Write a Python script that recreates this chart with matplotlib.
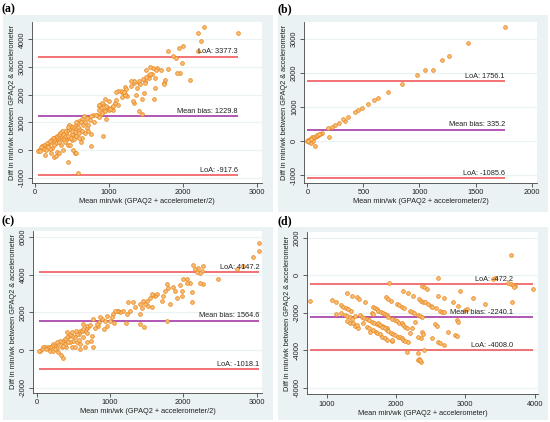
import matplotlib
matplotlib.use("Agg")
import matplotlib.pyplot as plt
from matplotlib.patches import Rectangle

plt.rcParams['font.family'] = ['Liberation Sans', 'DejaVu Sans']

# ---------------- data ----------------
a_x = [2740, 2280, 2200, 2250, 2200, 2000, 1940, 1980, 1800, 1870, 1900, 2100, 1960, 1920, 1800, 1650,
       1600, 1560, 1500, 1580, 1620, 1700, 1760, 1740, 1740, 1620, 1610, 1540, 1540, 1560, 1480, 1480,
       1460, 1470, 1450, 1440, 1400, 1400, 1400, 1380, 1340, 1340, 1300, 1340, 1330, 1360, 1220, 1230,
       1220, 1240, 1220, 1180, 1160, 1120, 1100, 1120, 1080, 1060, 1040, 980, 1000, 960, 950, 920, 900,
       880, 870, 860, 890, 860, 880, 930, 960, 920, 840, 800, 780, 760, 740, 700, 720, 760, 760, 660,
       640, 600, 580, 560, 540, 560, 640, 620, 600, 600, 580, 540, 520, 520, 500, 500, 480, 460, 460,
       440, 430, 420, 400, 400, 380, 360, 340, 360, 340, 320, 310, 300, 280, 280, 260, 250, 240, 220,
       220, 200, 180, 160, 160, 140, 120, 100, 100, 80, 60, 40, 70, 120, 140, 220, 260, 280, 300, 320,
       380, 440, 470, 520, 540, 560, 440, 580, 500, 460, 420, 300, 280, 250, 230, 200, 180, 150, 350,
       330, 390, 410, 450, 480, 530, 560, 600, 640, 680, 700, 720, 680, 620, 650, 820, 860, 900, 940,
       1000, 1020, 1050, 1100, 1180, 1200, 1300, 1420, 1500, 1640]
a_y = [4230, 4450, 4230, 3960, 3580, 3760, 3680, 3160, 3580, 3410, 3330, 2530, 2790, 2770, 2930, 2980,
       2980, 3000, 2880, 2760, 2600, 2900, 2550, 2440, 2400, 2240, 1840, 2600, 2730, 2740, 2500, 2430,
       2560, 2060, 1830, 1290, 1420, 2440, 2500, 2230, 2420, 2500, 2480, 1700, 1780, 2000, 2270, 2200,
       2040, 1950, 2000, 2100, 2150, 2130, 2110, 1640, 1700, 1430, 1540, 1520, 1780, 1580, 1830, 1650,
       1700, 1640, 1580, 1620, 1530, 1450, 1280, 1440, 1110, 500, 1260, 1000, 1260, 1230, 1100, 1150,
       900, 580, 140, 1220, 1140, 1060, 990, 1000, 880, 750, 420, 280, 760, 620, 820, 650, 540, 830,
       580, 700, 880, 760, 900, 820, 700, 610, 700, 500, 570, 700, 620, 410, 470, 540, 430, 500, 460,
       380, 420, 350, 440, 380, 300, 320, 200, 240, 150, 100, 180, 150, 80, 120, 20, -30, -20, 40,
       -170, -120, -250, -200, -80, -100, 0, 180, 180, 0, -100, -100, -420, -840, 350, 420, 350, 300,
       250, 200, 80, 50, 120, 0, 200, 300, 380, 280, 500, 450, 400, 520, 430, 700, 600, 780, 680,
       1000, 1000, 900, 1250, 1200, 1350, 1400, 1450, 1500, 1600, 1800, 1900, 2100, 2300, 2400, 2650,
       2900]

b_x = [1762, 1435, 1263, 1198, 1123, 1049, 975, 841, 722, 633, 597, 544, 484, 455, 425, 366, 336,
       321, 282, 247, 217, 187, 193, 128, 113, 98, 83, 68, 53, 39, 24, 9, 0, 15, 33, 68, 53, 45, 60,
       75, 90, 105, 20, 30, 5]
b_y = [3343, 2873, 2500, 2382, 2088, 2088, 1941, 1667, 1431, 1255, 1206, 1078, 961, 912, 843, 716,
       588, 637, 520, 471, 422, 373, 108, 245, 206, 176, 147, 127, 98, 69, 49, 29, 0, -20, -69, -137,
       10, 127, 110, 150, 180, 200, 30, 60, -10]

c_x = [3036, 3036, 2955, 2727, 2809, 2477, 2273, 2273, 2250, 2227, 2205, 2182, 2159, 2136, 2091, 2045,
       2000, 2045, 1955, 1977, 1977, 2114, 2114, 2227, 1909, 1886, 1864, 1795, 1750, 1727, 1705, 1818,
       1773, 1636, 1614, 1591, 1568, 1545, 1500, 1514, 1568, 1477, 1455, 1409, 1432, 1409, 1409, 1464,
       1341, 1318, 1250, 1273, 1227, 1182, 1218, 1136, 1114, 1091, 1068, 1045, 1023, 1000, 1055, 955,
       932, 964, 918, 886, 864, 855, 841, 818, 795, 773, 705, 691, 727, 673, 659, 636, 750, 736, 764,
       591, 614, 582, 545, 523, 500, 477, 455, 432, 409, 386, 364, 341, 318, 295, 273, 250, 227, 205,
       182, 159, 136, 114, 91, 68, 45, 36, 182, 227, 295, 327, 355, 400, 455, 477, 523, 591, 591, 659,
       682, 545, 386, 341, 273, 432, 409, 477, 536, 627, 691, 573, 636, 364, 250, 127, 1773]
c_y = [5681, 5274, 4956, 4300, 4460, 3770, 3500, 4478, 4212, 4071, 4354, 4124, 4300, 4531, 3540, 3540,
       3770, 3770, 3469, 3150, 2885, 3062, 2531, 3540, 2761, 3150, 3327, 3292, 3150, 2885, 2619, 2442,
       3504, 2973, 2885, 2938, 2973, 2761, 2619, 2354, 2265, 2442, 2584, 2442, 2230, 1912, 1380, 1239,
       2265, 2531, 2531, 2088, 1912, 2088, 1416, 2000, 2088, 2053, 2088, 1912, 1735, 1558, 1416, 1823,
       1558, 1292, 1115, 1646, 1735, 1469, 1292, 1380, 1168, 1646, 1204, 1292, 1345, 1115, 1027, 1380,
       761, 496, 142, 1027, 1027, 850, 850, 673, 496, 761, 814, 673, 708, 584, 496, 407, 460, 319, 407,
       230, 319, 230, 142, 177, 106, 142, 142, 53, -35, -70, -35, -35, -124, -248, -425, 142, 407, 142,
       142, 53, 319, 142, 407, 407, 319, 142, 106, 407, 938, 938, 1027, 1115, 885, 549, 708, 230, 53,
       71, 1558]

d_x = [761, 1081, 1135, 1207, 1240, 1275, 1312, 1347, 1298, 1370, 1434, 1471, 1553,
       1135, 1207, 1265, 1298, 1337, 1370, 1298, 1337, 1376, 1409, 1457, 1443,
       1409, 1481, 1506, 1543, 1578, 1611, 1650, 1683, 1722, 1755, 1794, 1827, 1866,
       1529, 1578, 1611, 1625, 1673, 1708, 1722, 1770, 1794, 1842, 1866, 1939, 1948,
       1673, 1698, 1722, 1745, 1784, 1817, 1842, 1866, 1890, 1650, 1673,
       1736, 1770, 1803, 1842, 1866, 1890, 1928, 1962, 1986, 2025, 2058, 2083, 2106, 2130, 2178,
       1856, 1890, 1928, 2010, 2044, 2083, 2116,
       1948, 1986, 2010, 2044, 2083, 2106, 2130, 2155,
       2106, 2178, 2250, 2203, 2236, 2265, 2236, 2203, 2275, 1900, 2155, 2323, 2323,
       2602, 2371, 2409, 2444, 2611, 2698, 2924, 3116, 3429,
       3621, 3660, 3693, 3718, 3708, 3670,
       2332, 2361, 2390, 2419, 2458, 2506, 2525, 2574, 2636, 2669, 2698,
       2828, 2891, 2996, 3021, 2314, 2347, 2380, 2563, 2588, 2877, 2891,
       2371, 2395, 2361, 2314, 2525, 2755, 2852, 2877, 2611, 2636, 2698, 2409,
       2332, 2361, 2347, 3659, 3976, 3284, 3404]
d_y = [-1369, -1316, -1438, -1582, -1673, -1759, -1812, -1887, -926, -1086, -1172, -1262, -1406,
       -2062, -2025, -2132, -2169, -2239, -2345, -2452, -2527, -2527, -2703, -2826, -2650,
       -2169, -2116, -2206, -2260, -2329, -2383, -2473, -2527, -2580, -2633, -2703, -2772, -2826,
       -2560, -2740, -2826, -3006, -2916, -3006, -3092, -3130, -3273, -3359, -3450, -3487, -3450,
       -1705, -1759, -1812, -1887, -1972, -2025, -2079, -2132, -2206, -2025, -2079,
       -2560, -2650, -2740, -2826, -2916, -2953, -3060, -3130, -3183, -3273, -3305, -3359, -3450, -3503, -3573,
       -1172, -1278, -1353, -1529, -1598, -1673, -1759,
       -2329, -2383, -2452, -2527, -2560, -2650, -2740, -2826,
       -835, -958, -1086, -1887, -1940, -1993, -2826, -3092, -2473, -425, -4074, -4159, -4517,
       -158, -552, -638, -729, -1086, -1193, -819, -1193, -158,
       -425, -478, -516, -569, -638, -1438,
       -1278, -1353, -1406, -1438, -1545, -1620, -1673, -1759, -1903, -1940, -1972,
       -1438, -1620, -1850, -1796, -2116, -2169, -2206, -2612, -2687, -2383, -2473,
       -3039, -3146, -3359, -3273, -3359, -3006, -3183, -3236, -3573, -3626, -3716, -3983,
       -4464, -4608, -4517, 1084, -747, -1547, -213]

panel_letters = ["(a)", "(b)", "(c)", "(d)"]
loa_upper = [3377.3, 1756.1, 4147.2, -472.2]
mean_bias = [1229.8, 335.2, 1564.6, -2240.1]
loa_lower = [-917.6, -1085.6, -1018.1, -4008.0]
xlabels = ["Mean min/wk (GPAQ2 + accelerometer/2)", "Mean min/wk (GPAQ2 + accelerometer/2)",
           "Mean min/wk (GPAQ2 + accelerometer/2)", "Mean min/wk (GPAQ2 + accelerometer)"]
ylabel = "Diff in min/wk between GPAQ2 & accelerometer"
xticks = [[0, 1000, 2000, 3000], [0, 500, 1000, 1500, 2000], [0, 1000, 2000, 3000], [1000, 2000, 3000, 4000]]
yticks = [[-1000, 0, 1000, 2000, 3000, 4000], [-1000, 0, 1000, 2000, 3000],
          [-2000, 0, 2000, 4000, 6000], [-6000, -4000, -2000, 0, 2000]]

data = [(a_x, a_y), (b_x, b_y), (c_x, c_y), (d_x, d_y)]

# ---------------- layout (pixels) ----------------
W, H = 550, 422
axes_px = [(31.7, 261.7, 21.7, 182.7), (304.3, 536.7, 21.7, 182.7),
           (33.3, 261.7, 231.0, 392.7), (306.7, 538.3, 231.7, 394.3)]
box_px = [(3, 273, 15, 212), (278, 548, 15, 212), (3, 273, 227, 420), (278, 548, 227, 420)]
letter_px = [(2, 3), (277, 3), (2, 215), (277, 215)]
xlims = [(-45, 3064), (-27, 2045), (-45, 3068), (712, 4053)]
ylims = [(-1180, 4640), (-1225, 3510), (-2265, 6318), (-6347, 2329)]
label_x = [None, None, None, 3690]

fig = plt.figure(figsize=(W / 100, H / 100), dpi=100)
fig.patch.set_facecolor('white')

bg = '#EAF2F3'
fs = 5.3
for i in range(4):
    L, R, T, B = box_px[i]
    rect = Rectangle((L / W, 1 - B / H), (R - L) / W, (B - T) / H,
                     transform=fig.transFigure, facecolor=bg, edgecolor='none', zorder=-10)
    fig.add_artist(rect)
    lx, ly = letter_px[i]
    fig.text(lx / W, 1 - ly / H, panel_letters[i], family=['Liberation Serif', 'DejaVu Serif'],
             fontweight='bold', fontsize=8.5, ha='left', va='top')

    L, R, T, B = axes_px[i]
    ax = fig.add_axes([L / W, 1 - B / H, (R - L) / W, (B - T) / H])
    ax.set_zorder(1)
    ax.set_facecolor('white')
    x, y = data[i]
    ax.set_xlim(*xlims[i])
    ax.set_ylim(*ylims[i])
    for yt in yticks[i]:
        ax.axhline(yt, color=bg, lw=0.9, zorder=0)
    x0, x1 = min(x), max(x)
    ax.hlines([loa_upper[i], loa_lower[i]], x0, x1, color='#F05A5E', lw=1.2, zorder=2)
    ax.hlines([mean_bias[i]], x0, x1, color='#A23AA8', lw=1.2, zorder=2)
    ax.scatter(x, y, s=7, facecolor='#F8C27E', edgecolor='#EC8A22', linewidths=0.6, zorder=3)

    tx = label_x[i] if label_x[i] is not None else x1
    dy = (ylims[i][1] - ylims[i][0]) * 0.008
    ax.text(tx, loa_upper[i] + dy, f"LoA: {loa_upper[i]:.1f}", ha='right', va='bottom', fontsize=fs, color='#222222', zorder=4)
    ax.text(tx, mean_bias[i] + dy, f"Mean bias: {mean_bias[i]:.1f}", ha='right', va='bottom', fontsize=fs, color='#222222', zorder=4)
    ax.text(tx, loa_lower[i] + dy, f"LoA: {loa_lower[i]:.1f}", ha='right', va='bottom', fontsize=fs, color='#222222', zorder=4)

    ax.set_xticks(xticks[i])
    ax.set_yticks(yticks[i])
    ax.set_yticklabels([str(v) for v in yticks[i]], rotation=90, va='center')
    ax.tick_params(axis='both', labelsize=fs, length=3, width=0.6, color='#444444', pad=1.5, labelcolor='#222222')
    for s in ['top', 'right']:
        ax.spines[s].set_visible(False)
    for s in ['left', 'bottom']:
        ax.spines[s].set_color('#444444')
        ax.spines[s].set_linewidth(0.6)
    ax.set_xlabel(xlabels[i], fontsize=fs, labelpad=1.5, color='#222222')
    ax.set_ylabel(ylabel, fontsize=fs, labelpad=2, color='#222222')

fig.savefig('out.png', dpi=100, facecolor='white')
